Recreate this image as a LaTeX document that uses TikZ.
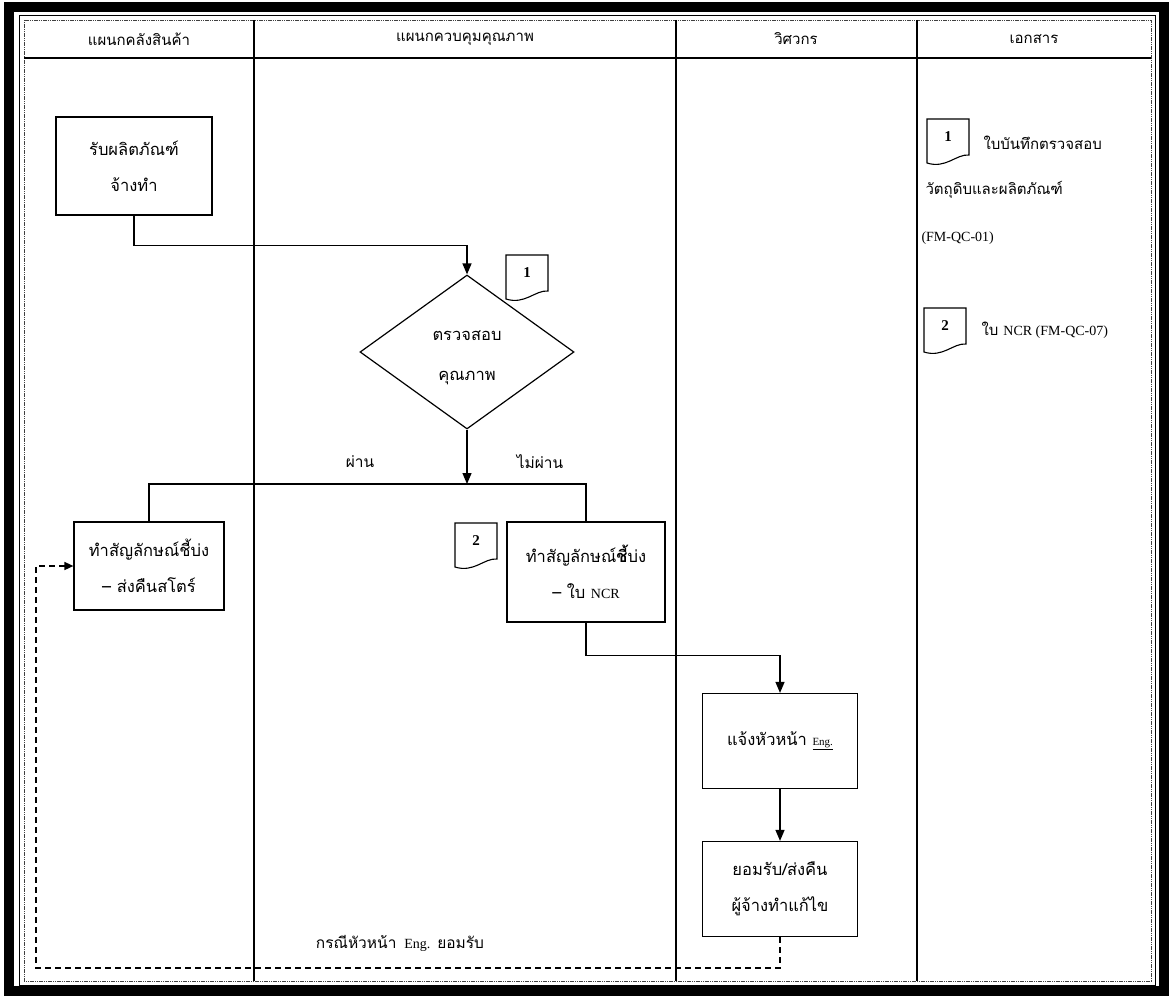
\documentclass[tikz,border=0pt]{standalone}
\usepackage{fontspec}
\setmainfont{Liberation Serif}
\newfontfamily\thai[Script=Thai]{Loma}
\usetikzlibrary{arrows.meta,shapes.geometric,calc}

\tikzset{
  flow/.style={line width=1.3pt},
  arr/.style={flow,-{Triangle[length=11pt,width=9pt]}},
  fback/.style={line width=1.5pt,dash pattern=on 6pt off 4pt,-{Triangle[length=9pt,width=8pt]}},
  procbox/.style={draw,line width=1.2pt,align=center,inner sep=0pt,
    font=\thai\fontsize{16.5}{36}\selectfont},
  head/.style={font=\thai\fontsize{15}{18}\selectfont},
  lbl/.style={font=\thai\fontsize{15.5}{18}\selectfont},
  doctext/.style={anchor=west,font=\thai\fontsize{15}{18}\selectfont},
  pics/docsym/.style={code={
    \draw[line width=1.1pt,fill=white] (-21,-22) -- (21,-22) -- (21,14)
      .. controls (8,13) and (-2,28) .. (-21,22) -- cycle;
    \node[font=\bfseries\fontsize{15}{18}\selectfont] at (0,-4) {#1};
  }}
}

\begin{document}
\begin{tikzpicture}[x=1pt,y=-1pt]
\useasboundingbox (0,0) rectangle (1173,1000);

% frame
\draw[line width=10pt] (9,7) rectangle (1164,991);
\draw[line width=1pt] (19,16) rectangle (1155,985);
\draw[line width=0.8pt,black!75,dash pattern=on 1.2pt off 0.6pt] (24,20) rectangle (1151,981);

% swimlane grid
\draw[line width=1.2pt] (24,58) -- (1151,58);
\draw[line width=1.1pt] (254,20) -- (254,981);
\draw[line width=1.1pt] (676,20) -- (676,981);
\draw[line width=1.1pt] (917,20) -- (917,981);

% lane headers
\node[head] (h1) at (139,39) {แผนกคลังสินค้า};
\node[head] (h2) at (465,39) {แผนกควบคุมคุณภาพ};
\node[head] (h3) at (796,39) {วิศวกร};
\node[head] (h4) at (1034,39) {เอกสาร};

% process steps
\node[procbox,minimum width=156pt,minimum height=98pt] (A) at (134,166)
  {รับผลิตภัณฑ์\\จ้างทำ};
\node[draw,diamond,line width=1.2pt,minimum width=214pt,minimum height=154pt,
  inner sep=0pt] (D) at (467,352) {};
\node[align=center,font=\thai\fontsize{16.5}{40}\selectfont] (Dt) at (467,358)
  {ตรวจสอบ\\คุณภาพ};
\node[procbox,minimum width=150pt,minimum height=88pt] (B) at (149,566)
  {ทำสัญลักษณ์ชี้บ่ง\\– ส่งคืนสโตร์};
\node[procbox,minimum width=158pt,minimum height=100pt] (C) at (586,572)
  {ทำสัญลักษณ์{\bfseries ชี้}บ่ง\\– ใบ {\rmfamily\fontsize{14}{36}\selectfont NCR}};
\node[procbox,minimum width=155pt,minimum height=95pt] (E) at (780,741)
  {แจ้งหัวหน้า {\rmfamily\fontsize{11}{36}\selectfont\underline{Eng.}}};
\node[procbox,minimum width=155pt,minimum height=95pt] (F) at (780,889)
  {ยอมรับ/ส่งคืน\\ผู้จ้างทำแก้ไข};

% documents
\pic (d1) at (527,277) {docsym=1};
\pic (d2) at (476,545) {docsym=2};
\pic (r1) at (948,141) {docsym=1};
\pic (r2) at (945,330) {docsym=2};
\node[doctext] (t1) at (980,143) {ใบบันทึกตรวจสอบ};
\node[doctext] (t2) at (922,190) {วัตถุดิบและผลิตภัณฑ์};
\node[doctext,font=\fontsize{14}{18}\selectfont] (t3) at (918,238) {(FM-QC-01)};
\node[doctext] (t4) at (978,330) {ใบ {\rmfamily\fontsize{14}{18}\selectfont NCR (FM-QC-07)}};

% connectors
\coordinate (br) at (467,484);
\coordinate (fb) at (36,968);
\draw[arr] (A.south) -- ++(0,30) -| (D.north);
\draw[arr] (D.south) -- (br);
\draw[flow] (B.north) |- (br) -| (C.north);
\draw[arr] (C.south) -- ++(0,33) -| (E.north);
\draw[arr] (E.south) -- (F.north);
\draw[fback] (F.south) |- (fb) |- (B.west);

% labels
\node[lbl] (pass) at (360,462) {ผ่าน};
\node[lbl] (fail) at (540,462) {ไม่ผ่าน};
\node[lbl] (acc) at (400,943) {กรณีหัวหน้า \,{\rmfamily\fontsize{14}{18}\selectfont Eng.} ยอมรับ};
\end{tikzpicture}
\end{document}
